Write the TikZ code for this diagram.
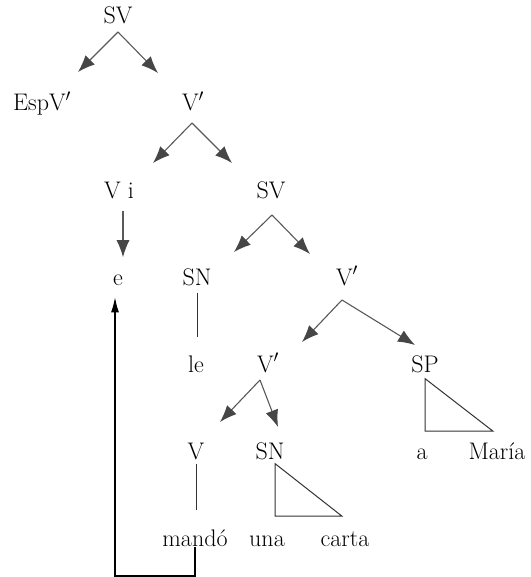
\documentclass[tikz,border=0pt]{standalone}
\usepackage{tikz}
\usetikzlibrary{arrows.meta}

\begin{document}
\begin{tikzpicture}[x=1pt,y=-1pt,
    every node/.style={font=\fontsize{24}{28}\selectfont,inner sep=1pt,anchor=base},
    br/.style={draw=gray!70!black,line width=1.1pt,
        -{Latex[length=17pt,width=13pt,color=gray!55!black]}},
    ln/.style={draw=black!80,line width=1pt},
    mv/.style={draw=black,line width=1.1pt,-{Latex[length=15pt,width=8pt]}}]
\useasboundingbox (0,0) rectangle (530,577);
\node (sv0) at (118,24) {SV};
\node (espv) at (42,111) {EspV$'$};
\node (vb1) at (193,111) {V$'$};
\node (vi) at (119,198) {V i};
\node (sv2) at (271,198) {SV};
\node (e) at (118,285) {e};
\node (sn3) at (197,285) {SN};
\node (vb3) at (347,285) {V$'$};
\node (le) at (196,372) {le};
\node (vb4) at (268,372) {V$'$};
\node (sp) at (425,372) {SP};
\node (v5) at (196,459) {V};
\node (sn5) at (270,459) {SN};
\node (a) at (422,459) {a};
\node (maria) at (497,459) {María};
\node (mando) at (195,546) {mandó};
\node (una) at (267,546) {una};
\node (carta) at (345,546) {carta};
%
\coordinate (sv0a) at (118,32);
\coordinate (sv0l) at (78,72);
\coordinate (sv0r) at (158,73);
\coordinate (vb1a) at (192,123);
\coordinate (vb1l) at (153,163);
\coordinate (vb1r) at (232,163);
\coordinate (sv2a) at (272,215);
\coordinate (sv2l) at (234,252);
\coordinate (sv2r) at (310,254);
\coordinate (vb3a) at (342,300);
\coordinate (vb3l) at (302,342);
\coordinate (vb3r) at (415,345);
\coordinate (vb4a) at (260,380);
\coordinate (vb4l) at (220,422);
\coordinate (vb4r) at (278,427);
\coordinate (turn) at (115,576);
\path (carta.north |- una.north) ++(-3,-18) coordinate (snr);
\path (maria.north |- a.north) ++(-4,-16) coordinate (spr);
%
\draw[br] (sv0a)--(sv0l);
\draw[br] (sv0a)--(sv0r);
\draw[br] (vb1a)--(vb1l);
\draw[br] (vb1a)--(vb1r);
\draw[br] (sv2a)--(sv2l);
\draw[br] (sv2a)--(sv2r);
\draw[br] (vb3a)--(vb3l);
\draw[br] (vb3a)--(vb3r);
\draw[br] (vb4a)--(vb4l);
\draw[br] (vb4a)--(vb4r);
\draw[br,shorten <=11pt,shorten >=16pt] ([xshift=4pt]vi.south)--([xshift=5pt]e.north);
%
\draw[ln,shorten <=6pt,shorten >=17pt] (sn3.south)--(sn3.south |- le.north);
\draw[ln,shorten <=3pt,shorten >=18pt] (v5.south)--(v5.south |- mando.north);
\draw[ln] (sn5.south) ++(5,3) |- (snr) -- cycle;
\draw[ln] (sp.south) ++(0,5) |- (spr) -- cycle;
%
\draw[mv,shorten >=11pt] (mando.south) |- (turn)--(turn |- e.south);
\end{tikzpicture}
\end{document}
